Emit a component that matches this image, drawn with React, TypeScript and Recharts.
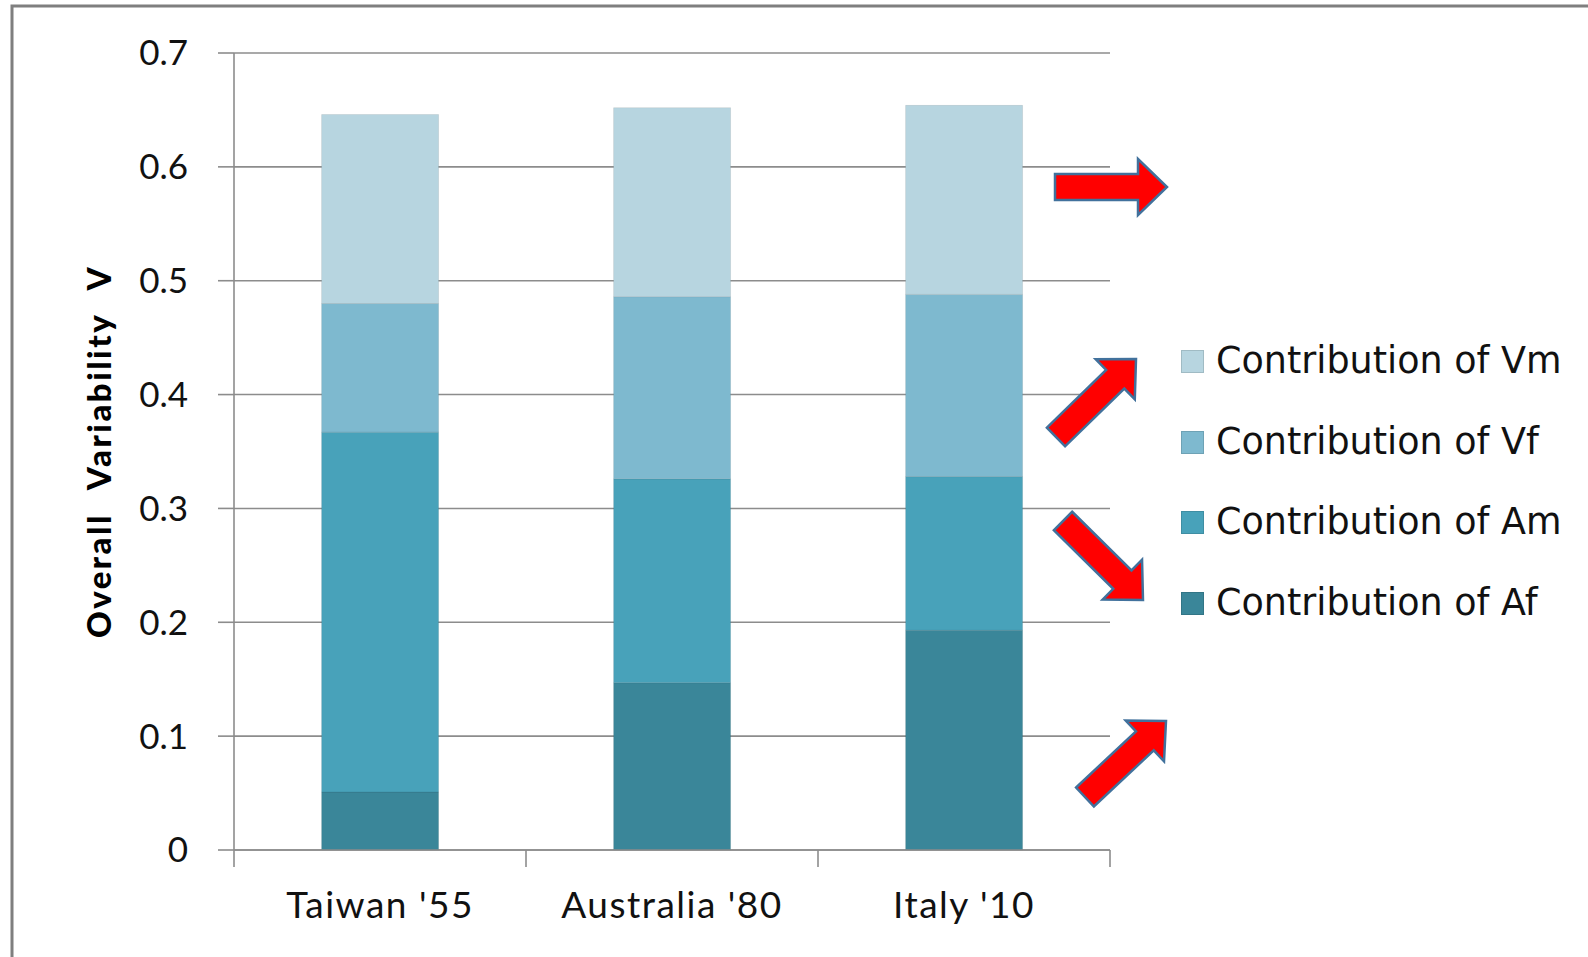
import React from 'react';
import { BarChart, Bar, XAxis, YAxis, CartesianGrid } from 'recharts';

const categories = ["Taiwan '55", "Australia '80", "Italy '10"];
const contributionAf = [0.051, 0.147, 0.193];
const contributionAm = [0.316, 0.179, 0.135];
const contributionVf = [0.113, 0.160, 0.160];
const contributionVm = [0.166, 0.166, 0.166];
const yTicks = [0, 0.1, 0.2, 0.3, 0.4, 0.5, 0.6, 0.7];

const series = [
  { key: 'af', name: 'Contribution of Af', color: '#3a8699' },
  { key: 'am', name: 'Contribution of Am', color: '#48a2ba' },
  { key: 'vf', name: 'Contribution of Vf', color: '#7eb9cf' },
  { key: 'vm', name: 'Contribution of Vm', color: '#b7d5e0' },
];

const data = categories.map((name, i) => ({
  name,
  af: contributionAf[i],
  am: contributionAm[i],
  vf: contributionVf[i],
  vm: contributionVm[i],
}));

// annotation arrows, tail -> tip in page pixels
const arrows = [
  { from: [1055, 187], to: [1167, 187] },
  { from: [1056, 437], to: [1136, 359] },
  { from: [1063, 521], to: [1143, 600] },
  { from: [1085, 797], to: [1166, 721] },
];

const GRID = '#8c8c8c';
const TICK_FONT = 'Lato, Calibri, sans-serif';
const LABEL_GAP = 42;
const EDGE_TICK = 17;

function Arrow({ from, to }: { from: number[]; to: number[] }) {
  const dx = to[0] - from[0];
  const dy = to[1] - from[1];
  const len = Math.hypot(dx, dy);
  const angle = (Math.atan2(dy, dx) * 180) / Math.PI;
  const sw = 13; // half shaft width
  const hw = 28; // half head width
  const hl = 29; // head length
  const pts = [
    [0, -sw], [len - hl, -sw], [len - hl, -hw], [len, 0],
    [len - hl, hw], [len - hl, sw], [0, sw],
  ].map(p => p.join(',')).join(' ');
  return (
    <polygon
      points={pts}
      transform={`translate(${from[0]},${from[1]}) rotate(${angle})`}
      fill="#ff0000"
      stroke="#41719c"
      strokeWidth={2.5}
      strokeLinejoin="miter"
    />
  );
}

// category label plus tick marks on the band edges (between categories)
function CategoryTick({ x, y, payload, index, visibleTicksCount }: any) {
  const half = payload.offset ?? 0;
  const axisY = y - LABEL_GAP;
  const isLast = index === visibleTicksCount - 1;
  return (
    <g>
      <line x1={x - half} x2={x - half} y1={axisY} y2={axisY + EDGE_TICK} stroke={GRID} strokeWidth={1.6} />
      {isLast && (
        <line x1={x + half} x2={x + half} y1={axisY} y2={axisY + EDGE_TICK} stroke={GRID} strokeWidth={1.6} />
      )}
      <text
        x={x}
        y={y}
        dy="0.71em"
        textAnchor="middle"
        fill="#111"
        fontSize={37}
        fontFamily={TICK_FONT}
        letterSpacing={1.5}
      >
        {payload.value}
      </text>
    </g>
  );
}

// legend lists the stack top-down
function LegendBox() {
  const items = [...series].reverse();
  return (
    <div style={{
      position: 'absolute', left: 1181, top: 321,
      fontFamily: '"DejaVu Sans", Verdana, sans-serif', fontSize: 36.5, color: '#111',
    }}>
      {items.map(s => (
        <div key={s.key} style={{ display: 'flex', alignItems: 'center', height: 80.7 }}>
          <span style={{
            width: 23, height: 23, background: s.color, marginRight: 12,
            boxSizing: 'border-box', border: '1px solid rgba(0,0,0,0.12)',
          }} />
          <span style={{ whiteSpace: 'nowrap', lineHeight: 1 }}>{s.name}</span>
        </div>
      ))}
    </div>
  );
}

function YTitle({ viewBox }: any) {
  const cy = viewBox.y + viewBox.height / 2;
  return (
    <text
      x={98}
      y={cy}
      transform={`rotate(-90, 98, ${cy})`}
      textAnchor="middle"
      dominantBaseline="central"
      fontFamily={TICK_FONT}
      fontWeight={900}
      fontSize={33}
      fill="#000"
      style={{ wordSpacing: 14, letterSpacing: 2.5 }}
    >
      Overall Variability V
    </text>
  );
}

export default function App() {
  return (
    <div style={{ position: 'absolute', left: 0, top: 0, width: 1588, height: 957, background: '#fff', overflow: 'hidden' }}>
      <BarChart
        width={1588}
        height={957}
        data={data}
        margin={{ top: 53, right: 478, bottom: 0, left: 0 }}
        barCategoryGap="30%"
      >
        <CartesianGrid horizontal vertical={false} stroke={GRID} strokeWidth={1.6} />
        <XAxis
          dataKey="name"
          height={107}
          interval={0}
          axisLine={{ stroke: GRID, strokeWidth: 1.6 }}
          tickLine={false}
          tickSize={0}
          tickMargin={LABEL_GAP}
          tick={<CategoryTick />}
        />
        <YAxis
          width={234}
          domain={[0, 0.7]}
          ticks={yTicks}
          interval={0}
          axisLine={{ stroke: GRID, strokeWidth: 1.6 }}
          tickLine={{ stroke: GRID, strokeWidth: 1.6 }}
          tickSize={16}
          tickMargin={30}
          tick={{ fill: '#111', fontSize: 35, fontFamily: TICK_FONT }}
          label={<YTitle />}
        />
        {series.map(s => (
          <Bar
            key={s.key}
            dataKey={s.key}
            name={s.name}
            stackId="v"
            fill={s.color}
            stroke="rgba(0,0,0,0.08)"
            strokeWidth={1}
            isAnimationActive={false}
          />
        ))}
      </BarChart>
      <LegendBox />
      <svg
        width={1588}
        height={957}
        style={{ position: 'absolute', left: 0, top: 0, pointerEvents: 'none' }}
      >
        <polyline points="12,957 12,6 1588,6" fill="none" stroke="#7f7f7f" strokeWidth={3} />
        {arrows.map((a, i) => <Arrow key={i} from={a.from} to={a.to} />)}
      </svg>
    </div>
  );
}
